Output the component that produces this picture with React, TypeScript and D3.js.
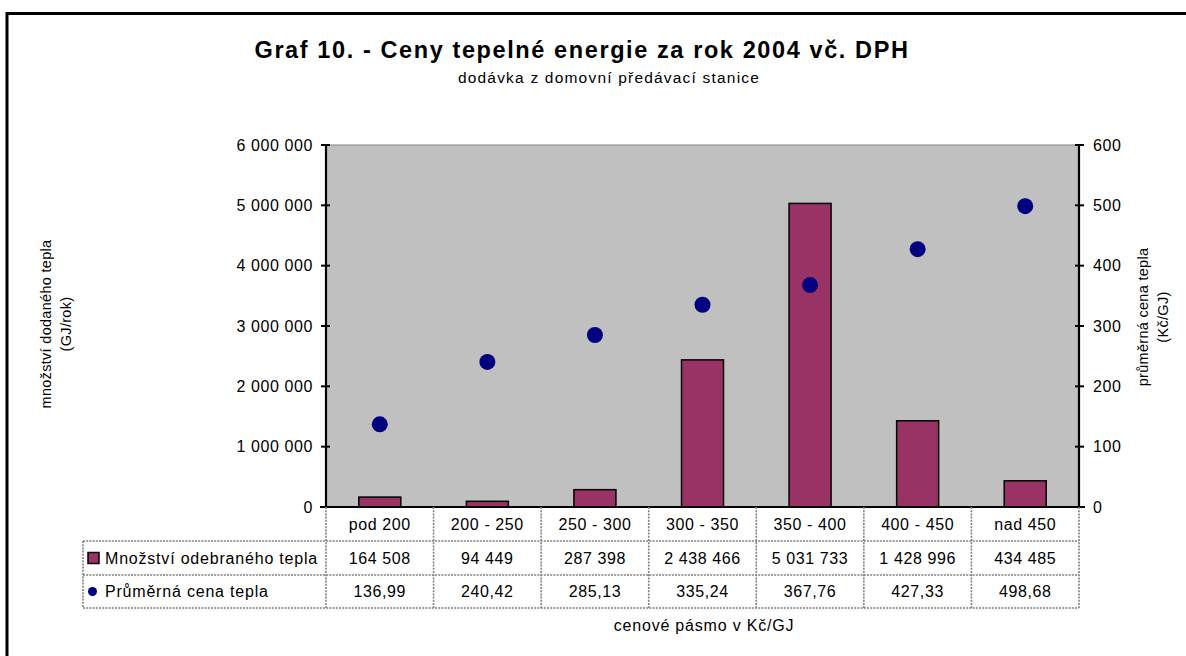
import React from "react";
import * as d3 from "d3";

const categories = ["pod 200", "200 - 250", "250 - 300", "300 - 350", "350 - 400", "400 - 450", "nad 450"];
const quantity = [164508, 94449, 287398, 2438466, 5031733, 1428996, 434485];
const quantityLabels = ["164 508", "94 449", "287 398", "2 438 466", "5 031 733", "1 428 996", "434 485"];
const price = [136.99, 240.42, 285.13, 335.24, 367.76, 427.33, 498.68];
const priceLabels = ["136,99", "240,42", "285,13", "335,24", "367,76", "427,33", "498,68"];
const leftTicks = [0, 1000000, 2000000, 3000000, 4000000, 5000000, 6000000];
const rightTicks = [0, 100, 200, 300, 400, 500, 600];

const FONT = "'Liberation Sans', Arial, sans-serif";

export default function App() {
  const W = 1186, H = 656;
  const pL = 326, pR = 1079, pT = 145, pB = 507;
  const x = d3.scaleBand<string>().domain(categories).range([pL, pR]);
  const yL = d3.scaleLinear().domain([0, 6000000]).range([pB, pT]);
  const yR = d3.scaleLinear().domain([0, 600]).range([pB, pT]);
  const fmt = (v: number) => d3.format(",")(v).replace(/,/g, " ");
  const barW = 42;
  const row0 = pB, row1 = 541, row2 = 575, row3 = 608;
  const legX = 83;
  const dash = { stroke: "#808080", strokeWidth: 1.6, strokeDasharray: "2,1.2", fill: "none" } as const;
  const bw = x.bandwidth();
  const fs = 16;
  const ls = 0.6;

  return (
    <svg width={W} height={H} style={{ position: "absolute", left: 0, top: 0 }} fontFamily={FONT}>
      <rect x={0} y={0} width={W} height={H} fill="#fff" />
      <rect x={7} y={13.5} width={W + 20} height={H + 20} fill="none" stroke="#000" strokeWidth={3} />
      <text x={582} y={58} textAnchor="middle" fontSize={23.5} fontWeight="bold" letterSpacing={1.6}>
        Graf 10. - Ceny tepelné energie za rok 2004 vč. DPH
      </text>
      <text x={609} y={83} textAnchor="middle" fontSize={15.5} letterSpacing={1.2}>
        dodávka z domovní předávací stanice
      </text>

      {/* plot area */}
      <rect x={pL} y={pT} width={pR - pL} height={pB - pT} fill="#C0C0C0" />
      <line x1={pL} x2={pR} y1={pT} y2={pT} stroke="#808080" strokeWidth={1} />

      {/* bars */}
      {quantity.map((v, i) => (
        <rect key={"b" + i} x={(x(categories[i]) as number) + bw / 2 - barW / 2} y={yL(v)} width={barW} height={pB - yL(v)}
          fill="#993366" stroke="#000" strokeWidth={1.5} />
      ))}
      {/* dots */}
      {price.map((v, i) => (
        <circle key={"d" + i} cx={(x(categories[i]) as number) + bw / 2} cy={yR(v)} r={8} fill="#000080" />
      ))}

      {/* axes */}
      <line x1={pL} x2={pL} y1={pT} y2={pB} stroke="#000" strokeWidth={2.2} />
      <line x1={pR} x2={pR} y1={pT} y2={pB} stroke="#000" strokeWidth={2.2} />
      <line x1={pL - 6} x2={pR + 6} y1={pB} y2={pB} stroke="#000" strokeWidth={2.2} />
      {leftTicks.map((t) => (
        <g key={"lt" + t}>
          <line x1={pL - 5} x2={pL + 4} y1={yL(t)} y2={yL(t)} stroke="#000" strokeWidth={2} />
          <text x={313} y={yL(t)} dy="0.35em" textAnchor="end" fontSize={fs} letterSpacing={ls}>{fmt(t)}</text>
        </g>
      ))}
      {rightTicks.map((t) => (
        <g key={"rt" + t}>
          <line x1={pR - 4} x2={pR + 5} y1={yR(t)} y2={yR(t)} stroke="#000" strokeWidth={2} />
          <text x={1093} y={yR(t)} dy="0.35em" textAnchor="start" fontSize={fs} letterSpacing={ls}>{t}</text>
        </g>
      ))}

      {/* axis titles */}
      <g transform={`translate(46, 324) rotate(-90)`}>
        <text x={0} y={0} textAnchor="middle" fontSize={14.5} letterSpacing={0.3} dy="0.35em">množství dodaného tepla</text>
        <text x={0} y={20} textAnchor="middle" fontSize={14.5} letterSpacing={0.3} dy="0.35em">(GJ/rok)</text>
      </g>
      <g transform={`translate(1143, 317) rotate(-90)`}>
        <text x={0} y={0} textAnchor="middle" fontSize={14.5} letterSpacing={0.3} dy="0.35em">průměrná cena tepla</text>
        <text x={0} y={20} textAnchor="middle" fontSize={14.5} letterSpacing={0.3} dy="0.35em">(Kč/GJ)</text>
      </g>

      {/* data table */}
      <g>
        {categories.map((c, i) => (
          <line key={"v" + i} x1={(x(c) as number)} x2={(x(c) as number)} y1={row0} y2={row3} {...dash} />
        ))}
        <line x1={pR} x2={pR} y1={row0} y2={row3} {...dash} />
        <line x1={legX} x2={legX} y1={row1} y2={row3} {...dash} />
        <line x1={legX} x2={pR} y1={row1} y2={row1} {...dash} />
        <line x1={legX} x2={pR} y1={row2} y2={row2} {...dash} />
        <line x1={legX} x2={pR} y1={row3} y2={row3} {...dash} />
        {categories.map((c, i) => (
          <g key={"c" + i}>
            <text x={(x(c) as number) + bw / 2} y={(row0 + row1) / 2} dy="0.35em" textAnchor="middle" fontSize={fs} letterSpacing={ls}>{c}</text>
            <text x={(x(c) as number) + bw / 2} y={(row1 + row2) / 2} dy="0.35em" textAnchor="middle" fontSize={fs} letterSpacing={ls}>{quantityLabels[i]}</text>
            <text x={(x(c) as number) + bw / 2} y={(row2 + row3) / 2} dy="0.35em" textAnchor="middle" fontSize={fs} letterSpacing={ls}>{priceLabels[i]}</text>
          </g>
        ))}
        <rect x={88} y={(row1 + row2) / 2 - 5.5} width={11} height={11} fill="#993366" stroke="#000" strokeWidth={1.5} />
        <text x={105} y={(row1 + row2) / 2} dy="0.35em" fontSize={fs} letterSpacing={0.8}>Množství odebraného tepla</text>
        <circle cx={92.5} cy={(row2 + row3) / 2} r={4.5} fill="#000080" />
        <text x={105} y={(row2 + row3) / 2} dy="0.35em" fontSize={fs} letterSpacing={0.8}>Průměrná cena tepla</text>
      </g>
      <text x={704} y={625} dy="0.35em" textAnchor="middle" fontSize={fs} letterSpacing={0.8}>cenové pásmo v Kč/GJ</text>
    </svg>
  );
}
